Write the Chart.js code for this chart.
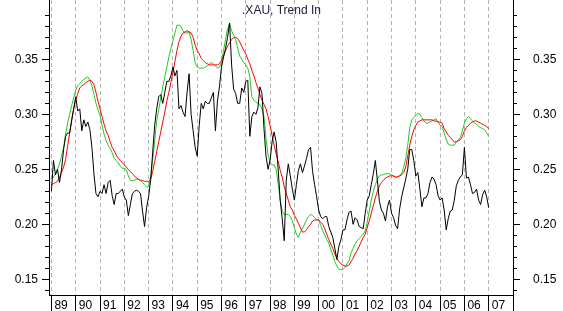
<!DOCTYPE html>
<html>
<head>
<meta charset="utf-8">
<script src="https://cdn.jsdelivr.net/npm/chart.js@4/dist/chart.umd.min.js"></script>
<style>
  html, body { margin: 0; padding: 0; background: #fff; overflow: hidden; }
  canvas { display: block; }
</style>
</head>
<body>
<canvas id="xauChart" width="563" height="311"></canvas>
<script>
// monthly samples, Jan 1989 .. Jan 2007
const startYear = 1989;

const yearTicks = [1989, 1990, 1991, 1992, 1993, 1994, 1995, 1996, 1997, 1998, 1999,
  2000, 2001, 2002, 2003, 2004, 2005, 2006, 2007, 2008];
const yearLabels = ['89', '90', '91', '92', '93', '94', '95', '96', '97', '98', '99',
  '00', '01', '02', '03', '04', '05', '06', '07', ''];

const yMajor = [0.15, 0.20, 0.25, 0.30, 0.35, 0.40];
const yMinor = [0.14, 0.16, 0.17, 0.18, 0.19, 0.21, 0.22, 0.23, 0.24, 0.26, 0.27, 0.28,
  0.29, 0.31, 0.32, 0.33, 0.34, 0.36, 0.37, 0.38, 0.39];

const xauLine = [
  0.230, 0.258, 0.245, 0.250, 0.238, 0.250, 0.268, 0.280, 0.283, 0.283, 0.295, 0.305, // 89
  0.316, 0.303, 0.305, 0.285, 0.295, 0.289, 0.293, 0.286, 0.270, 0.246, 0.228, 0.225, // 90
  0.230, 0.228, 0.236, 0.228, 0.238, 0.240, 0.226, 0.218, 0.228, 0.228, 0.230, 0.232, // 91
  0.225, 0.222, 0.208, 0.218, 0.228, 0.230, 0.231, 0.230, 0.228, 0.212, 0.198, 0.215, // 92
  0.225, 0.240, 0.265, 0.290, 0.305, 0.316, 0.318, 0.310, 0.320, 0.330, 0.330, 0.335, // 93
  0.343, 0.335, 0.340, 0.305, 0.308, 0.302, 0.298, 0.320, 0.337, 0.300, 0.285, 0.270, // 94
  0.262, 0.290, 0.310, 0.305, 0.312, 0.310, 0.310, 0.315, 0.320, 0.285, 0.312, 0.325, // 95
  0.343, 0.352, 0.360, 0.370, 0.383, 0.345, 0.323, 0.319, 0.310, 0.310, 0.324, 0.320, // 96
  0.330, 0.331, 0.280, 0.298, 0.302, 0.300, 0.306, 0.325, 0.319, 0.287, 0.262, 0.250, // 97
  0.258, 0.275, 0.284, 0.275, 0.250, 0.222, 0.205, 0.185, 0.240, 0.255, 0.244, 0.232, // 98
  0.222, 0.236, 0.249, 0.255, 0.247, 0.253, 0.260, 0.268, 0.270, 0.248, 0.236, 0.225, // 99
  0.213, 0.207, 0.205, 0.207, 0.207, 0.198, 0.193, 0.188, 0.178, 0.168, 0.180, 0.186, // 00
  0.195, 0.195, 0.204, 0.211, 0.212, 0.200, 0.206, 0.204, 0.198, 0.197, 0.196, 0.210, // 01
  0.222, 0.226, 0.236, 0.246, 0.258, 0.240, 0.221, 0.213, 0.210, 0.203, 0.216, 0.222, // 02
  0.210, 0.206, 0.199, 0.196, 0.214, 0.225, 0.233, 0.241, 0.250, 0.268, 0.268, 0.258, // 03
  0.244, 0.247, 0.232, 0.216, 0.224, 0.224, 0.228, 0.238, 0.243, 0.241, 0.236, 0.226, // 04
  0.222, 0.224, 0.213, 0.195, 0.205, 0.212, 0.213, 0.222, 0.235, 0.240, 0.243, 0.245, // 05
  0.270, 0.242, 0.243, 0.236, 0.228, 0.229, 0.232, 0.222, 0.218, 0.227, 0.231, 0.225, // 06
  0.215
];

// slow trend (red)
const trendSlow = [
  0.236, 0.237, 0.238, 0.239, 0.243, 0.247, 0.252, 0.259, 0.271, 0.283, 0.294, 0.305,
  0.313, 0.319, 0.324, 0.326, 0.327, 0.329, 0.330, 0.331, 0.330, 0.327, 0.320, 0.312,
  0.305, 0.298, 0.291, 0.285, 0.281, 0.275, 0.270, 0.267, 0.263, 0.260, 0.258, 0.256,
  0.254, 0.252, 0.250, 0.248, 0.246, 0.244, 0.242, 0.241, 0.240, 0.240, 0.239, 0.239,
  0.239, 0.241, 0.248, 0.257, 0.266, 0.275, 0.284, 0.293, 0.302, 0.312, 0.320, 0.329,
  0.338, 0.348, 0.358, 0.366, 0.371, 0.374, 0.375, 0.376, 0.375, 0.374, 0.370, 0.363,
  0.358, 0.355, 0.351, 0.349, 0.347, 0.346, 0.345, 0.345, 0.345, 0.345, 0.345, 0.346,
  0.349, 0.353, 0.358, 0.362, 0.365, 0.368, 0.370, 0.370, 0.369, 0.366, 0.362, 0.358,
  0.355, 0.350, 0.346, 0.340, 0.335, 0.329, 0.324, 0.318, 0.313, 0.309, 0.305, 0.298,
  0.290, 0.281, 0.272, 0.264, 0.257, 0.249, 0.243, 0.234, 0.228, 0.222, 0.216, 0.213,
  0.208, 0.205, 0.201, 0.197, 0.193, 0.193, 0.195, 0.198, 0.200, 0.203, 0.204, 0.204,
  0.204, 0.202, 0.200, 0.196, 0.191, 0.186, 0.182, 0.178, 0.173, 0.169, 0.166, 0.164,
  0.163, 0.162, 0.162, 0.163, 0.166, 0.169, 0.173, 0.176, 0.180, 0.184, 0.188, 0.191,
  0.197, 0.203, 0.210, 0.217, 0.224, 0.230, 0.235, 0.238, 0.240, 0.242, 0.243, 0.244,
  0.244, 0.244, 0.243, 0.243, 0.244, 0.245, 0.247, 0.252, 0.262, 0.272, 0.280, 0.286,
  0.290, 0.293, 0.294, 0.295, 0.295, 0.295, 0.295, 0.295, 0.295, 0.294, 0.294, 0.293,
  0.293, 0.292, 0.287, 0.284, 0.281, 0.279, 0.277, 0.275, 0.275, 0.276, 0.277, 0.280,
  0.285, 0.288, 0.290, 0.292, 0.293, 0.294, 0.294, 0.293, 0.292, 0.291, 0.290, 0.289,
  0.287
];

// fast trend (green)
const trendFast = [
  0.241, 0.243, 0.246, 0.250, 0.255, 0.262, 0.270, 0.282, 0.292, 0.300, 0.308, 0.315,
  0.322, 0.326, 0.328, 0.330, 0.332, 0.333, 0.334, 0.331, 0.326, 0.318, 0.310, 0.304,
  0.299, 0.290, 0.282, 0.276, 0.272, 0.269, 0.265, 0.260, 0.258, 0.256, 0.253, 0.251,
  0.251, 0.250, 0.244, 0.240, 0.240, 0.240, 0.241, 0.241, 0.240, 0.238, 0.236, 0.234,
  0.234, 0.243, 0.258, 0.276, 0.294, 0.304, 0.315, 0.325, 0.334, 0.343, 0.352, 0.360,
  0.367, 0.374, 0.381, 0.381, 0.380, 0.376, 0.374, 0.374, 0.375, 0.368, 0.358, 0.347,
  0.343, 0.342, 0.342, 0.342, 0.343, 0.344, 0.346, 0.347, 0.346, 0.344, 0.342, 0.343,
  0.347, 0.358, 0.368, 0.378, 0.383, 0.376, 0.372, 0.368, 0.360, 0.353, 0.350, 0.347,
  0.345, 0.342, 0.334, 0.316, 0.313, 0.311, 0.310, 0.309, 0.305, 0.298, 0.278, 0.263,
  0.256, 0.254, 0.254, 0.250, 0.237, 0.222, 0.212, 0.209, 0.209, 0.209, 0.207, 0.203,
  0.197, 0.191, 0.188, 0.193, 0.196, 0.200, 0.204, 0.207, 0.209, 0.208, 0.206, 0.204,
  0.204, 0.199, 0.194, 0.190, 0.186, 0.183, 0.177, 0.172, 0.166, 0.162, 0.159, 0.159,
  0.159, 0.161, 0.164, 0.167, 0.174, 0.178, 0.182, 0.185, 0.187, 0.189, 0.191, 0.194,
  0.202, 0.212, 0.222, 0.230, 0.236, 0.241, 0.244, 0.245, 0.245, 0.246, 0.246, 0.246,
  0.245, 0.244, 0.243, 0.243, 0.245, 0.246, 0.252, 0.260, 0.272, 0.288, 0.295, 0.297,
  0.299, 0.301, 0.300, 0.297, 0.294, 0.292, 0.292, 0.293, 0.294, 0.295, 0.296, 0.293,
  0.290, 0.289, 0.283, 0.277, 0.273, 0.272, 0.272, 0.272, 0.275, 0.277, 0.279, 0.285,
  0.292, 0.296, 0.298, 0.296, 0.294, 0.292, 0.291, 0.289, 0.288, 0.287, 0.286, 0.283,
  0.280
];

const toPoints = vals => vals.map((v, i) => ({ x: startYear + i / 12, y: v }));

// short minor ticks on both value axes
const minorTicks = {
  id: 'minorTicks',
  afterDraw(chart) {
    const { ctx, chartArea: a } = chart;
    const y = chart.scales.y;
    ctx.save();
    ctx.strokeStyle = '#000';
    ctx.lineWidth = 1;
    ctx.beginPath();
    yMinor.forEach(v => {
      const py = Math.round(y.getPixelForValue(v)) + 0.5;
      ctx.moveTo(a.left - 4, py);
      ctx.lineTo(a.left, py);
      ctx.moveTo(a.right, py);
      ctx.lineTo(a.right + 4, py);
    });
    ctx.stroke();
    ctx.restore();
  }
};

// keep the plot area fixed: no extra room for half labels
const noPad = s => {
  s.paddingTop = 0; s.paddingBottom = 0;
  s.paddingLeft = 0; s.paddingRight = 0;
};

Chart.defaults.font.family = '"Liberation Sans", Arial, sans-serif';
Chart.defaults.font.size = 12;
Chart.defaults.color = '#000';

const yAxis = (position, padding) => ({
  position: position,
  min: 0.1357,
  max: 0.404,
  afterBuildTicks: s => { s.ticks = yMajor.map(v => ({ value: v })); },
  afterFit: s => { s.width = position === 'left' ? 49 : 50; noPad(s); },
  ticks: {
    padding: padding,
    autoSkip: false,
    callback: v => (v > 0.39 ? null : v.toFixed(2))
  },
  grid: { drawOnChartArea: false, tickLength: 7, tickColor: '#000' },
  border: { color: '#000', width: 1 }
});

new Chart(document.getElementById('xauChart'), {
  type: 'line',
  data: {
    datasets: [
      { data: toPoints(xauLine), borderColor: '#000', borderWidth: 1, pointRadius: 0, tension: 0 },
      { data: toPoints(trendSlow), borderColor: '#ff0000', borderWidth: 1, pointRadius: 0, tension: 0 },
      { data: toPoints(trendFast), borderColor: '#22c822', borderWidth: 1, pointRadius: 0, tension: 0 }
    ]
  },
  options: {
    responsive: false,
    animation: false,
    events: [],
    layout: { padding: 0 },
    plugins: {
      legend: { display: false },
      tooltip: { enabled: false },
      title: {
        display: true,
        text: '.XAU, Trend In',
        color: '#1a1a40',
        font: { size: 12, weight: 'normal' },
        padding: { top: 3.5, bottom: -17.9 }
      }
    },
    scales: {
      x: {
        type: 'linear',
        min: 1988.9,
        max: 2008,
        afterBuildTicks: s => { s.ticks = yearTicks.map(v => ({ value: v })); },
        afterFit: s => { s.height = 16; noPad(s); },
        ticks: {
          autoSkip: false,
          maxRotation: 0,
          minRotation: 0,
          align: 'start',
          labelOffset: 3,
          padding: -12.5,
          callback: (v, i) => yearLabels[i]
        },
        grid: {
          color: '#b4b4b4',
          tickLength: 16,
          tickColor: '#000',
          tickBorderDash: []
        },
        border: { color: '#000', width: 1, dash: [4, 3] }
      },
      y: yAxis('left', 4),
      y2: yAxis('right', 13)
    }
  },
  plugins: [minorTicks]
});
</script>
</body>
</html>
